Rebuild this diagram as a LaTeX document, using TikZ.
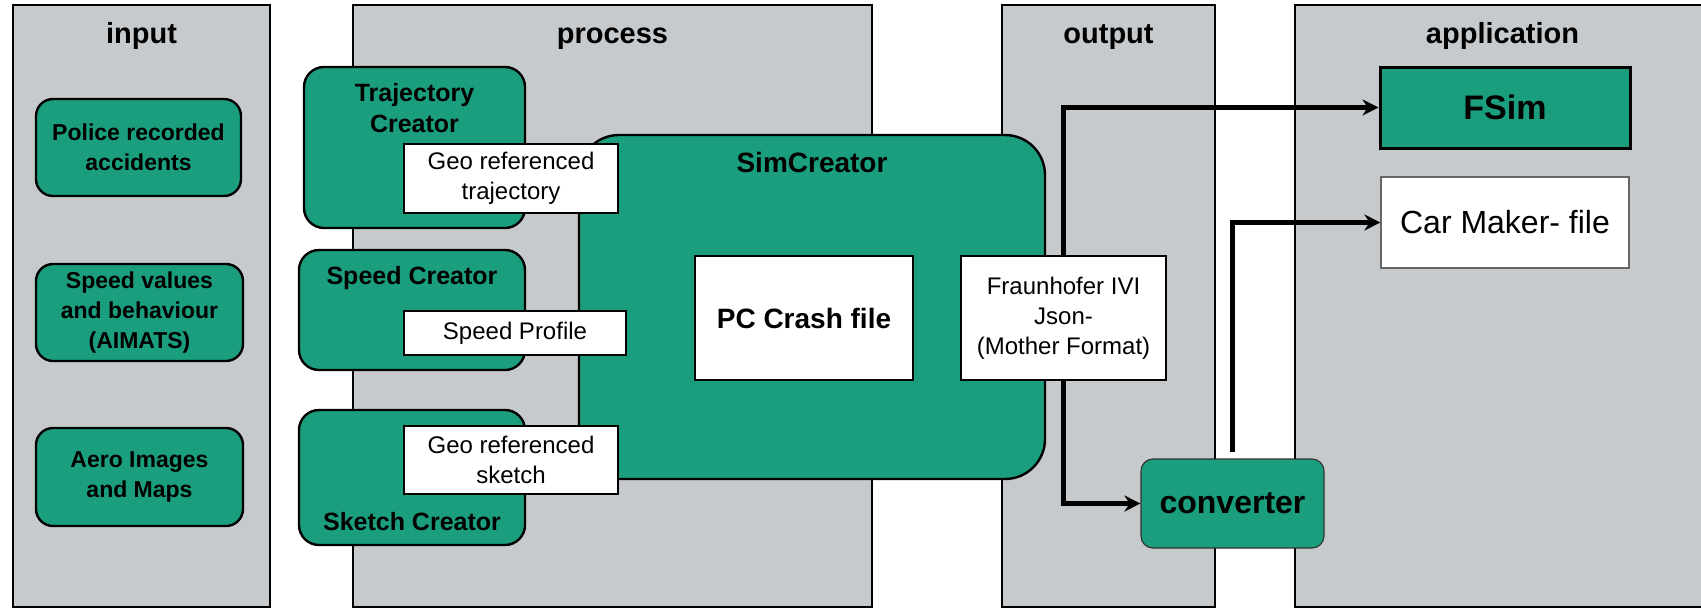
\documentclass[tikz,border=0pt]{standalone}
\usepackage{fontspec}
\setmainfont{Liberation Sans}
\usepackage{xcolor}
\usetikzlibrary{arrows.meta}

\definecolor{panelgray}{RGB}{199,202,205}
\definecolor{simgreen}{RGB}{26,158,126}

\tikzset{
  panel/.style={draw=black,line width=1pt,fill=panelgray,inner sep=0pt},
  paneltitle/.style={anchor=base,inner sep=0pt,font=\fontsize{14.5}{17}\selectfont\bfseries},
  inbox/.style={draw=black,line width=1.2pt,fill=simgreen,rounded corners=8.5pt,inner sep=0pt,
    align=center,font=\fontsize{11.5}{15}\selectfont\bfseries},
  creatorbox/.style={draw=black,line width=1.2pt,fill=simgreen,rounded corners=10pt,inner sep=0pt},
  creatortext/.style={inner sep=0pt,align=center,font=\fontsize{12.5}{15.5}\selectfont\bfseries},
  whitebox/.style={draw=black,line width=1pt,fill=white,inner sep=0pt,align=center,
    font=\fontsize{12}{15}\selectfont},
  flow/.style={line width=2.5pt,-{Stealth[length=8pt,width=8pt]}}
}

\begin{document}
\begin{tikzpicture}[x=0.5pt,y=-0.5pt]
\useasboundingbox (0,0) rectangle (1701,611);

% columns
\node[panel,minimum width=128.5pt,minimum height=301pt] (inpanel) at (141.5,306) {};
\node[panel,minimum width=259.5pt,minimum height=301pt] (procpanel) at (612.5,306) {};
\node[panel,minimum width=106.5pt,minimum height=301pt] (outpanel) at (1108.5,306) {};
\node[panel,minimum width=207.5pt,minimum height=301pt] (apppanel) at (1502.5,306) {};
\node[paneltitle] (intitle) at (141.5,43) {input};
\node[paneltitle] (proctitle) at (612.5,43) {process};
\node[paneltitle] (outtitle) at (1108.5,43) {output};
\node[paneltitle] (apptitle) at (1502.5,43) {application};

% input
\node[inbox,minimum width=102.5pt,minimum height=48.5pt] (police) at (138.5,147.5) {Police recorded\\accidents};
\node[inbox,minimum width=103.5pt,minimum height=48.5pt] (speedval) at (139.5,312.5) {Speed values\\and behaviour\\(AIMATS)};
\node[inbox,minimum width=103.5pt,minimum height=49pt] (aero) at (139.5,477) {Aero Images\\and Maps};

% process
\node[creatorbox,minimum width=110.5pt,minimum height=80.5pt] (traj) at (414.5,147.5) {};
\node[creatorbox,minimum width=113pt,minimum height=60pt] (speedcr) at (412,310) {};
\node[creatorbox,minimum width=113pt,minimum height=67.5pt] (sketch) at (412,477.5) {};
\node[creatortext,anchor=north] (trajtxt) at ([yshift=-8.5pt]traj.north) {Trajectory\\Creator};
\node[creatortext,anchor=north] (speedcrtxt) at ([yshift=-8.5pt]speedcr.north) {Speed Creator};
\node[creatortext,anchor=base] (sketchtxt) at ([yshift=8pt]sketch.south) {Sketch Creator};

\node[draw=black,line width=1.2pt,fill=simgreen,rounded corners=20pt,inner sep=0pt,
  minimum width=233pt,minimum height=172pt] (simcr) at (812,307) {};
\node[creatortext,anchor=north,font=\fontsize{14}{17}\selectfont\bfseries] (simtxt) at ([yshift=-9pt]simcr.north) {SimCreator};

\node[whitebox,minimum width=107pt,minimum height=34.5pt] (georeftraj) at (511,178.5) {Geo referenced\\trajectory};
\node[whitebox,minimum width=111pt,minimum height=22pt] (speedprof) at (515,333) {Speed Profile};
\node[whitebox,minimum width=107pt,minimum height=34pt] (georefsk) at (511,460) {Geo referenced\\sketch};
\node[whitebox,minimum width=109pt,minimum height=62pt,font=\fontsize{14}{17}\selectfont\bfseries] (pccrash) at (804,318) {PC Crash file};

% output
\node[whitebox,minimum width=102.5pt,minimum height=62pt] (fraun) at (1063.5,318) {Fraunhofer IVI\\Json-\\(Mother Format)};
\node[draw=black!80,line width=0.6pt,fill=simgreen,rounded corners=6pt,inner sep=0pt,
  minimum width=91.5pt,minimum height=44.5pt,font=\fontsize{16}{19}\selectfont\bfseries] (conv) at (1232.5,503.5) {converter};

% application
\node[draw=black,line width=1.5pt,fill=simgreen,inner sep=0pt,minimum width=125pt,minimum height=40.5pt,
  font=\fontsize{17}{20}\selectfont\bfseries] (fsim) at (1505,107.5) {FSim};
\node[draw=black!60,line width=0.6pt,fill=white,inner sep=0pt,minimum width=124pt,minimum height=45.5pt,
  font=\fontsize{16}{19}\selectfont] (carmaker) at (1505,222.5) {Car Maker- file};

% connectors
\draw[flow] (fraun.north) |- (fsim.west);
\draw[flow] (fraun.south) |- (conv.west);
\draw[flow] ([yshift=3pt]conv.north) |- (carmaker.west);

\end{tikzpicture}
\end{document}
